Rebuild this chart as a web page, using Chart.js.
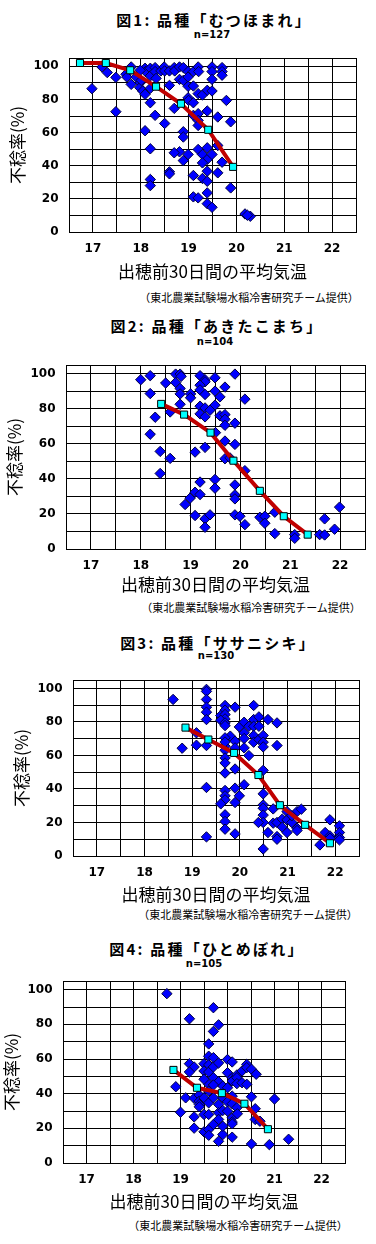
<!DOCTYPE html>
<html><head><meta charset="utf-8">
<script src="https://cdn.jsdelivr.net/npm/chart.js@4.4.1/dist/chart.umd.min.js"></script>
<style>
html,body{margin:0;padding:0;background:#fff;}
body{width:376px;height:1244px;position:relative;overflow:hidden;}
canvas.c{position:absolute;left:0;}
.t{position:absolute;transform:translate(-50%,-50%);white-space:nowrap;color:#000;line-height:1;}
.title{font-family:"Noto Sans CJK JP";font-weight:bold;font-size:15px;letter-spacing:2.2px;}
.n{font-family:"DejaVu Sans";font-weight:bold;font-size:10px;}
.note{font-family:"Noto Sans CJK JP";font-size:11px;}
</style></head><body>
<script>
// ---- axis ticks ----
const xGrid = [16.5,17,17.5,18,18.5,19,19.5,20,20.5,21,21.5,22,22.5];
const xTickLabels = [17,18,19,20,21,22];
const yGrid = [0,10,20,30,40,50,60,70,80,90,100,105];
const yTickLabels = [0,20,40,60,80,100];
const xAxisTitle = '出穂前30日間の平均気温';
const yAxisTitle = '不稔率(%)';
const sourceNote = '（東北農業試験場水稲冷害研究チーム提供）';

// ---- 図1 むつほまれ ----
const mutsuPoints = [
[17.19,99.6],[17.30,96.2],[17.48,93.3],[16.98,86.5],[17.48,72.6],[17.69,95.2],[17.71,93.5],[17.80,99.6],[17.80,89.1],[17.90,93.5],
[17.99,90.1],[17.98,87.1],[18.04,85.1],[18.09,83.1],[18.09,98.8],[18.10,96.8],[18.20,98.8],[18.20,94.2],[18.30,99.2],[18.30,96.8],
[18.32,92.7],[18.20,86.7],[18.20,78.0],[18.30,70.4],[18.09,61.1],[18.20,50.2],[18.20,31.7],[18.20,28.0],[18.42,97.2],[18.49,99.6],
[18.50,97.2],[18.60,97.2],[18.60,88.5],[18.70,99.2],[18.71,97.2],[18.81,99.6],[18.89,99.2],[18.81,92.1],[18.89,91.5],[18.99,96.8],
[18.99,93.5],[18.99,87.9],[19.10,96.8],[19.10,88.1],[19.20,99.6],[19.21,96.8],[18.70,74.6],[18.50,65.5],[18.89,60.5],[18.89,57.3],
[18.99,81.0],[19.00,79.4],[19.10,78.0],[19.20,83.5],[19.29,82.7],[19.39,85.5],[19.49,85.1],[19.49,99.6],[19.49,96.8],[19.49,92.1],
[19.70,99.2],[19.70,96.8],[19.70,94.6],[19.79,79.4],[19.61,69.4],[19.88,66.5],[19.10,70.4],[19.20,71.4],[19.20,67.3],[19.20,64.3],
[19.39,73.0],[19.61,52.2],[19.20,49.8],[19.29,46.8],[19.39,50.8],[19.39,43.8],[19.49,46.8],[19.29,41.7],[18.99,46.8],[18.81,48.4],
[18.70,47.8],[18.89,43.1],[19.70,42.1],[19.61,35.7],[19.39,36.7],[19.29,32.3],[19.39,30.6],[19.10,34.1],[18.60,36.3],[18.60,35.1],
[19.88,26.6],[19.39,23.6],[19.10,21.2],[19.20,20.6],[19.39,17.1],[19.49,14.9],[20.18,10.9],[20.29,9.5],[20.23,10.1],[18.01,91.5],[17.99,97.6]
];
const mutsuMeanTemp = [16.73,17.27,17.78,18.32,18.84,19.41,19.93];
const mutsuMeanRate = [102.0,102.0,97.6,87.7,77.4,61.7,39.3];

// ---- 図2 あきたこまち ----
const akitaPoints = [
[18.00,96.6],[18.19,98.9],[18.50,94.7],[18.70,99.8],[18.79,99.8],[18.70,95.0],[18.81,98.5],[18.19,88.7],[18.79,91.6],[18.79,88.5],
[19.00,88.5],[19.00,86.3],[18.79,82.6],[18.59,78.2],[18.29,75.2],[18.19,65.5],[18.39,55.7],[18.59,51.7],[18.39,43.1],[19.19,98.9],
[19.29,96.6],[19.29,95.4],[19.19,93.5],[19.19,90.8],[19.49,97.7],[19.29,88.2],[19.49,90.1],[19.59,86.8],[19.69,92.4],[19.89,99.8],
[19.49,82.1],[19.19,81.5],[19.29,80.5],[19.39,79.2],[19.19,77.1],[19.29,75.4],[19.59,76.0],[19.69,76.7],[19.69,74.0],[19.69,70.6],
[19.89,71.8],[20.09,85.5],[19.50,66.4],[19.69,61.6],[19.89,59.7],[19.29,58.0],[19.09,55.3],[19.69,51.5],[20.09,44.7],[19.19,38.2],
[19.49,39.7],[19.49,34.7],[19.89,36.6],[19.09,32.4],[19.19,31.1],[19.89,30.9],[19.89,28.6],[18.99,29.0],[18.89,25.4],[19.09,19.1],
[19.29,17.2],[19.39,19.5],[19.29,12.4],[19.89,19.5],[19.99,18.7],[20.09,13.9],[20.39,18.1],[20.49,18.7],[20.49,14.7],[20.69,21.0],
[20.69,8.8],[21.09,8.2],[21.09,6.1],[21.59,8.2],[21.69,8.0],[21.69,17.2],[21.89,11.3],[21.99,23.9],[19.79,52.0]
];
const akitaMeanTemp = [18.41,18.87,19.40,19.86,20.39,20.87,21.35];
const akitaMeanRate = [82.8,76.7,66.4,50.4,33.2,18.7,8.2];

// ---- 図3 ササニシキ ----
const sasaPoints = [
[18.60,93.4],[18.79,64.3],[19.09,73.5],[19.09,66.1],[19.30,99.4],[19.30,98.2],[19.30,93.4],[19.30,88.8],[19.30,85.8],[19.30,81.4],
[19.30,65.9],[19.30,40.9],[19.30,11.4],[19.69,89.8],[19.69,87.0],[19.60,83.8],[19.69,84.4],[19.69,81.8],[19.60,81.0],[19.69,79.4],
[19.69,77.8],[19.90,88.8],[19.80,71.5],[19.69,70.5],[19.69,65.5],[19.69,63.1],[19.69,58.5],[19.69,55.5],[19.69,49.5],[19.90,68.5],
[19.90,64.5],[19.90,51.9],[19.99,77.0],[20.09,79.8],[20.09,73.5],[20.09,70.1],[20.09,64.5],[20.19,77.4],[20.19,59.9],[20.29,89.8],
[20.29,81.4],[20.40,83.0],[20.29,77.4],[20.40,77.4],[20.29,71.9],[20.29,67.9],[20.40,69.5],[20.49,71.9],[20.49,67.9],[20.49,65.1],
[20.59,81.4],[20.78,79.4],[20.78,65.9],[20.49,51.1],[20.09,42.5],[19.90,40.5],[19.69,39.1],[19.69,35.9],[19.69,33.5],[19.60,31.1],
[19.90,31.9],[19.99,35.9],[19.69,24.6],[19.69,20.6],[19.69,16.0],[19.90,13.2],[20.49,37.1],[20.49,30.5],[20.49,28.5],[20.49,24.4],
[20.49,20.0],[20.39,20.0],[20.49,4.2],[20.70,28.1],[20.59,14.0],[20.70,19.6],[20.78,20.0],[20.78,11.6],[20.78,10.0],[20.89,22.0],
[20.89,17.2],[20.99,26.5],[20.99,21.6],[20.99,14.0],[21.09,20.0],[21.20,26.5],[21.29,27.9],[21.20,16.6],[21.20,15.2],[21.09,24.0],
[21.68,6.6],[21.79,14.0],[21.89,21.6],[21.89,12.0],[21.89,10.6],[22.09,18.0],[22.09,14.0],[22.09,11.0],[22.09,9.6],[19.69,68.0]
];
const sasaMeanTemp = [18.86,19.34,19.88,20.39,20.84,21.37,21.89];
const sasaMeanRate = [76.6,69.5,61.5,48.3,30.3,18.6,7.6];

// ---- 図4 ひとめぼれ ----
const hitoPoints = [
[18.71,97.7],[19.19,83.2],[19.70,89.6],[19.81,79.7],[19.70,75.9],[19.60,68.7],[19.60,61.6],[19.70,60.8],[19.19,57.3],[19.29,55.4],
[19.19,52.5],[19.50,57.3],[19.50,53.1],[19.60,56.6],[19.60,52.5],[19.70,55.4],[19.81,57.7],[20.00,59.7],[20.10,58.3],[20.00,52.1],
[20.10,49.2],[20.20,50.8],[20.31,53.1],[20.41,56.9],[20.41,55.0],[20.51,54.1],[20.61,51.2],[19.70,49.2],[19.81,46.9],[19.60,45.4],
[19.50,48.3],[19.70,45.0],[19.60,41.5],[19.90,44.4],[20.00,43.4],[20.10,47.3],[20.20,49.2],[20.20,45.8],[20.31,46.3],[20.41,45.4],
[18.90,44.0],[19.11,37.6],[19.29,37.3],[19.40,39.2],[19.40,35.7],[19.40,33.8],[19.40,32.4],[19.50,37.6],[19.60,34.7],[19.70,37.6],
[19.81,33.8],[19.90,37.6],[20.00,35.3],[20.10,38.6],[20.10,34.2],[20.20,31.9],[20.51,38.2],[21.00,36.9],[19.00,29.3],[19.29,26.6],
[19.50,28.0],[19.60,28.0],[19.81,29.0],[19.90,30.3],[20.00,29.9],[20.10,26.1],[20.10,23.7],[20.10,22.6],[20.21,28.4],[20.59,31.3],
[20.59,25.1],[20.69,24.1],[19.29,20.1],[19.50,18.0],[19.60,19.3],[19.60,16.0],[19.70,22.2],[19.81,25.1],[19.90,16.4],[19.81,12.5],
[20.10,14.9],[20.51,11.0],[20.89,10.6],[21.30,13.7],[19.90,21.2]
];
const hitoMeanTemp = [18.85,19.35,19.88,20.36,20.86];
const hitoMeanRate = [53.7,43.4,40.3,34.2,19.5];

// ---- panel layout ----
const panels = [
  {title:'図1: 品種「むつほまれ」', n:'n=127', pts:mutsuPoints, mx:mutsuMeanTemp, my:mutsuMeanRate,
   plot:{l:69,t:58,r:356,b:232}, titleAt:[214,19], nAt:[212,35], noteAt:[249,297], yPad:7.8, xPad:0.1},
  {title:'図2: 品種「あきたこまち」', n:'n=104', pts:akitaPoints, mx:akitaMeanTemp, my:akitaMeanRate,
   plot:{l:66,t:365,r:365,b:549}, titleAt:[217,325], nAt:[215,342], noteAt:[251,607], yPad:4.8, xPad:3.8},
  {title:'図3: 品種「ササニシキ」', n:'n=130', pts:sasaPoints, mx:sasaMeanTemp, my:sasaMeanRate,
   plot:{l:73,t:680,r:359,b:856}, titleAt:[218,642], nAt:[216,656], noteAt:[248,914], yPad:11.8, xPad:0.8},
  {title:'図4: 品種「ひとめぼれ」', n:'n=105', pts:hitoPoints, mx:hitoMeanTemp, my:hitoMeanRate,
   plot:{l:63,t:981,r:345,b:1163}, titleAt:[207,948], nAt:[204,964], noteAt:[238,1225], yPad:1.8, xPad:1.1}
];

function addText(cls, text, at){
  const d = document.createElement('div');
  d.className = 't ' + cls;
  d.textContent = text;
  d.style.left = at[0] + 'px';
  d.style.top = at[1] + 'px';
  document.body.appendChild(d);
}

const PAD_TOP = 20, XH = 50, PAD_BOTTOM = 5;
panels.forEach(p => {
  addText('title', p.title, p.titleAt);
  addText('n', p.n, p.nAt);
  addText('note', sourceNote, p.noteAt);

  const cv = document.createElement('canvas');
  cv.className = 'c';
  const top = p.plot.t - PAD_TOP;
  const h = p.plot.b - p.plot.t + PAD_TOP + XH + PAD_BOTTOM;
  cv.width = 376; cv.height = h;
  cv.style.width = '376px'; cv.style.height = h + 'px';
  cv.style.top = top + 'px';
  document.body.appendChild(cv);

  const tickFont = {family:'DejaVu Sans', weight:'bold', size:12};
  const axisFont = {family:'Noto Sans CJK JP', size:17, weight:'normal'};

  new Chart(cv, {
    type:'scatter',
    data:{datasets:[
      {data:p.mx.map((x,i)=>({x:x, y:p.my[i]})), showLine:true, borderColor:'#c00000', borderWidth:4,
       tension:0, pointStyle:'rect', pointRadius:5, pointHoverRadius:5,
       pointBackgroundColor:'#00ffff', pointBorderColor:'#000000', pointBorderWidth:1, clip:10},
      {data:p.pts.map(v=>({x:v[0], y:v[1]})), pointStyle:'rectRot', pointRadius:5.2, pointHoverRadius:5.2,
       backgroundColor:'#0000ff', borderColor:'#000040', borderWidth:1, clip:10}
    ]},
    options:{
      responsive:false, animation:false, devicePixelRatio:1,
      events:[],
      layout:{padding:{top:PAD_TOP, left:0, right:376 - p.plot.r, bottom:PAD_BOTTOM}},
      plugins:{legend:{display:false}, tooltip:{enabled:false}, title:{display:false}},
      scales:{
        x:{type:'linear', min:xGrid[0], max:xGrid[xGrid.length-1],
          afterBuildTicks(ax){ ax.ticks = xGrid.map(v=>({value:v})); },
          afterFit(ax){ ax.height = XH; },
          ticks:{autoSkip:false, maxRotation:0, minRotation:0, padding:9.5, color:'#000', font:tickFont,
            callback:(v)=> xTickLabels.includes(v) ? String(v) : ''},
          grid:{color:'#000', lineWidth:1, drawTicks:false},
          border:{color:'#000', width:1},
          title:{display:true, text:xAxisTitle, color:'#000', font:axisFont, padding:{top:0, bottom:p.xPad}}
        },
        y:{type:'linear', min:yGrid[0], max:yGrid[yGrid.length-1],
          afterBuildTicks(ax){ ax.ticks = yGrid.map(v=>({value:v})); },
          afterFit(ax){ ax.width = p.plot.l; },
          ticks:{autoSkip:false, padding:10.5, color:'#000', font:tickFont,
            callback:(v)=> yTickLabels.includes(v) ? String(v) : ''},
          grid:{color:'#000', lineWidth:1, drawTicks:false},
          border:{color:'#000', width:1},
          title:{display:true, text:yAxisTitle, color:'#000', font:axisFont, padding:{top:p.yPad, bottom:0}}
        }
      }
    }
  });
});
</script>
</body></html>
